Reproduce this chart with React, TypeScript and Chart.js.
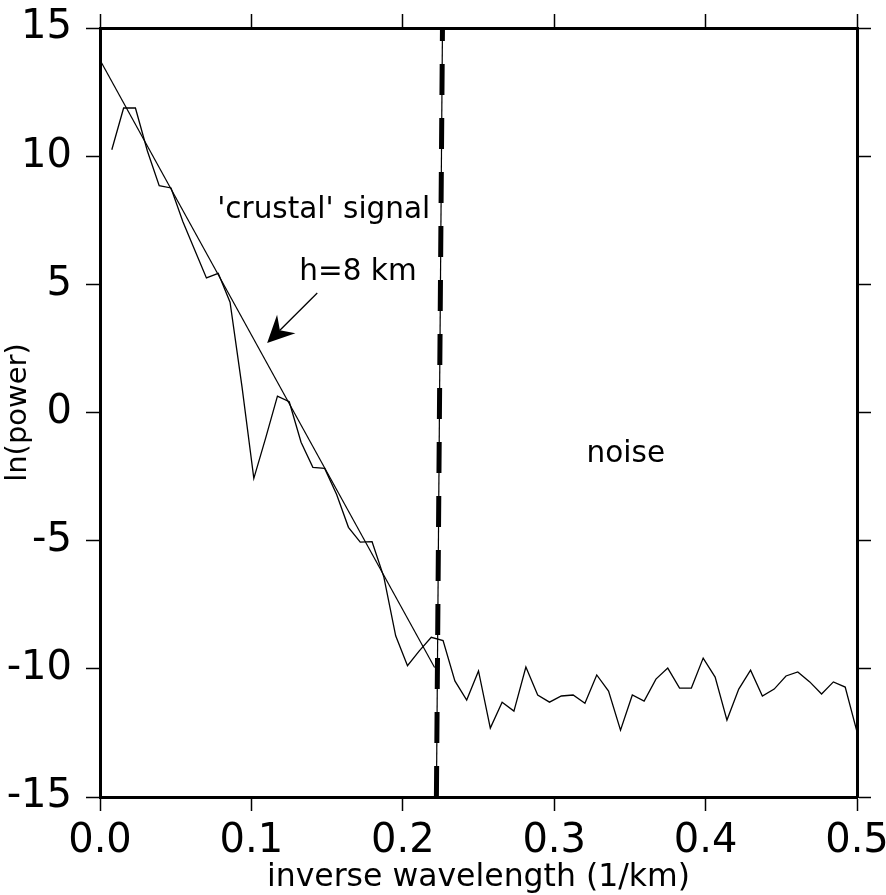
import React, { useEffect, useRef } from 'react';
import { Chart, registerables } from 'chart.js';

Chart.register(...registerables);

// inverse wavelength samples (1/km)
const frequency: number[] = [
  0.0078, 0.0156, 0.0234, 0.0313, 0.0391, 0.0469, 0.0547, 0.0625,
  0.0703, 0.0781, 0.0859, 0.0938, 0.1016, 0.1094, 0.1172, 0.125,
  0.1328, 0.1406, 0.1484, 0.1563, 0.1641, 0.1719, 0.1797, 0.1875,
  0.1953, 0.2031, 0.2109, 0.2188, 0.2266, 0.2344, 0.2422, 0.25,
  0.2578, 0.2656, 0.2734, 0.2813, 0.2891, 0.2969, 0.3047, 0.3125,
  0.3203, 0.3281, 0.3359, 0.3438, 0.3516, 0.3594, 0.3672, 0.375,
  0.3828, 0.3906, 0.3984, 0.4063, 0.4141, 0.4219, 0.4297, 0.4375,
  0.4453, 0.4531, 0.4609, 0.4688, 0.4766, 0.4844, 0.4922, 0.5,
];

// ln(power) spectrum
const lnPower: number[] = [
  10.25, 11.88, 11.88, 10.2, 8.85, 8.76, 7.45, 6.35,
  5.25, 5.43, 4.3, 1.0, -2.57, -1.0, 0.64, 0.42,
  -1.16, -2.14, -2.18, -3.2, -4.48, -5.06, -5.04, -6.42,
  -8.71, -9.88, -9.3, -8.77, -8.9, -10.47, -11.22, -10.08,
  -12.31, -11.3, -11.65, -9.93, -11.02, -11.3, -11.06, -11.02,
  -11.34, -10.24, -10.87, -12.39, -11.02, -11.26, -10.4, -9.97,
  -10.75, -10.75, -9.58, -10.32, -12.0, -10.79, -10.05, -11.06,
  -10.79, -10.28, -10.12, -10.51, -10.98, -10.51, -10.71, -12.46,
];

// straight-line fit (h = 8 km)
const fitX: number[] = [0.0, 0.221];
const fitY: number[] = [13.75, -9.95];

// signal / noise divider
const dividerX: number[] = [0.2222, 0.2262];
const dividerY: number[] = [-15, 15];

const xTickLabels: string[] = ['0.0', '0.1', '0.2', '0.3', '0.4', '0.5'];
const yTickLabels: string[] = ['-15', '-10', '-5', '0', '5', '10', '15'];

const annotationTexts: string[] = ["'crustal' signal", 'h=8 km', 'noise'];
const annotationX: number[] = [0.0774, 0.1316, 0.3214];
const annotationY: number[] = [7.89, 5.48, -1.65];

const arrowTail: number[] = [0.1435, 4.66];
const arrowTip: number[] = [0.1104, 2.71];

const FONT = "'DejaVu Sans', 'Liberation Sans', sans-serif";

const annotationPlugin = {
  id: 'annot',
  afterDatasetsDraw(chart: any) {
    const { ctx } = chart;
    const xs = chart.scales.x;
    const ys = chart.scales.y;
    ctx.save();
    ctx.fillStyle = '#000';
    ctx.font = `29.5px ${FONT}`;
    ctx.textBaseline = 'middle';
    ctx.textAlign = 'left';
    annotationTexts.forEach((t, i) => {
      ctx.fillText(t, xs.getPixelForValue(annotationX[i]), ys.getPixelForValue(annotationY[i]));
    });
    // arrow
    const tx = xs.getPixelForValue(arrowTail[0]);
    const ty = ys.getPixelForValue(arrowTail[1]);
    const hx = xs.getPixelForValue(arrowTip[0]);
    const hy = ys.getPixelForValue(arrowTip[1]);
    const ang = Math.atan2(hy - ty, hx - tx);
    const len = 27;
    const notch = 18;
    const half = 13;
    const bx = hx - len * Math.cos(ang);
    const by = hy - len * Math.sin(ang);
    const nx = hx - notch * Math.cos(ang);
    const ny = hy - notch * Math.sin(ang);
    ctx.strokeStyle = '#000';
    ctx.lineWidth = 1.3;
    ctx.beginPath();
    ctx.moveTo(tx, ty);
    ctx.lineTo(nx, ny);
    ctx.stroke();
    ctx.beginPath();
    ctx.moveTo(hx, hy);
    ctx.lineTo(bx + half * Math.sin(ang), by - half * Math.cos(ang));
    ctx.lineTo(nx, ny);
    ctx.lineTo(bx - half * Math.sin(ang), by + half * Math.cos(ang));
    ctx.closePath();
    ctx.fill();
    ctx.restore();
  },
};

export default function App() {
  const ref = useRef<HTMLCanvasElement | null>(null);

  useEffect(() => {
    if (!ref.current) return;
    const spectrum = frequency.map((x, i) => ({ x, y: lnPower[i] }));
    const fit = fitX.map((x, i) => ({ x, y: fitY[i] }));
    const divider = dividerX.map((x, i) => ({ x, y: dividerY[i] }));

    const tickGrid = {
      drawOnChartArea: false,
      drawTicks: true,
      tickLength: 14,
      tickWidth: 1.5,
      tickColor: '#000',
    };
    const border = { display: true, width: 3, color: '#000' };
    const zeroPad = (s: any) => {
      s.paddingTop = 0;
      s.paddingBottom = 0;
      s.paddingLeft = 0;
      s.paddingRight = 0;
    };

    const chart = new Chart(ref.current, {
      type: 'line',
      data: {
        datasets: [
          {
            data: spectrum,
            borderColor: '#000',
            borderWidth: 1.3,
            pointRadius: 0,
            tension: 0,
            xAxisID: 'x',
            yAxisID: 'y',
          },
          {
            data: fit,
            borderColor: '#000',
            borderWidth: 1.2,
            pointRadius: 0,
            xAxisID: 'x',
            yAxisID: 'y',
          },
          {
            data: divider,
            borderColor: '#000',
            borderWidth: 1.2,
            pointRadius: 0,
            xAxisID: 'x',
            yAxisID: 'y',
          },
          {
            data: divider,
            borderColor: '#000',
            borderWidth: 5,
            borderDash: [31, 23],
            borderCapStyle: 'butt',
            pointRadius: 0,
            xAxisID: 'x',
            yAxisID: 'y',
          },
        ],
      },
      options: {
        animation: false,
        responsive: false,
        devicePixelRatio: 1,
        layout: { padding: 0 },
        plugins: {
          legend: { display: false },
          tooltip: { enabled: false },
        },
        scales: {
          x: {
            type: 'linear',
            position: 'bottom',
            min: 0,
            max: 0.5,
            afterFit: (s: any) => { s.height = 98; zeroPad(s); },
            ticks: {
              stepSize: 0.1,
              maxRotation: 0,
              autoSkip: false,
              color: '#000',
              padding: 7,
              font: { family: FONT, size: 40 },
              callback: (_v: any, i: number) => xTickLabels[i],
            },
            grid: tickGrid,
            border,
            title: {
              display: true,
              text: 'inverse wavelength (1/km)',
              color: '#000',
              font: { family: FONT, size: 31.5 },
              padding: { top: 0, bottom: -2 },
            },
          },
          y: {
            type: 'linear',
            position: 'left',
            min: -15,
            max: 15,
            afterFit: (s: any) => { s.width = 100; zeroPad(s); },
            ticks: {
              stepSize: 5,
              autoSkip: false,
              color: '#000',
              padding: 14,
              font: { family: FONT, size: 40 },
              callback: (_v: any, i: number) => yTickLabels[i],
            },
            grid: tickGrid,
            border,
            title: {
              display: true,
              text: 'ln(power)',
              color: '#000',
              font: { family: FONT, size: 29 },
              padding: { top: 1, bottom: 0 },
            },
          },
          xTop: {
            type: 'linear',
            position: 'top',
            min: 0,
            max: 0.5,
            afterFit: (s: any) => { s.height = 28; zeroPad(s); },
            ticks: { display: false, stepSize: 0.1 },
            grid: tickGrid,
            border,
          },
          yRight: {
            type: 'linear',
            position: 'right',
            min: -15,
            max: 15,
            afterFit: (s: any) => { s.width = 29; zeroPad(s); },
            ticks: { display: false, stepSize: 5 },
            grid: tickGrid,
            border,
          },
        },
      } as any,
      plugins: [annotationPlugin],
    });
    return () => chart.destroy();
  }, []);

  return (
    <div style={{ position: 'absolute', left: 0, top: 0, width: 886, height: 895, background: '#fff' }}>
      <canvas ref={ref} width={886} height={895} />
    </div>
  );
}
